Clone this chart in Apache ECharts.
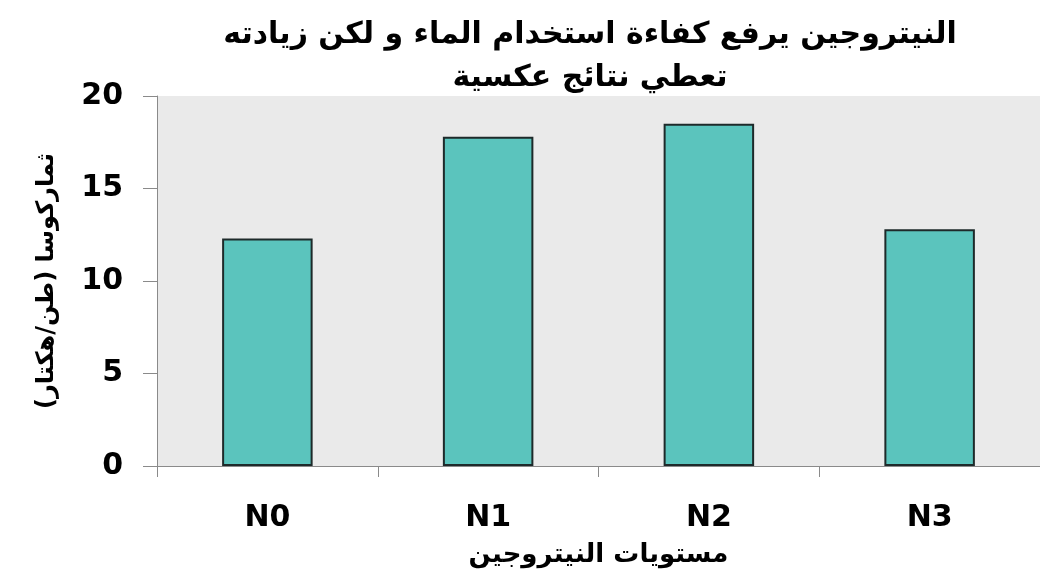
<!DOCTYPE html>
<html>
<head>
<meta charset="utf-8">
<script src="https://cdn.jsdelivr.net/npm/echarts@6/dist/echarts.min.js"></script>
<style>
html,body{margin:0;padding:0;background:#fff;}
#c{width:1040px;height:573px;}
</style>
</head>
<body>
<div id="c"></div>
<script>
const categories = ['N0', 'N1', 'N2', 'N3'];
const yieldValues = [12.3, 17.8, 18.5, 12.8];
const titleText = 'النيتروجين يرفع كفاءة استخدام الماء و لكن زيادته\nتعطي نتائج عكسية';
const yAxisName = 'ثماركوسا (طن/هكتار)';
const xAxisName = 'مستويات النيتروجين';

const FONT = '"DejaVu Sans", "Liberation Sans", sans-serif';
const chart = echarts.init(document.getElementById('c'));
chart.setOption({
  animation: false,
  backgroundColor: '#ffffff',
  graphic: [{
    type: 'text',
    x: 590,
    y: 14,
    z: 100,
    style: {
      text: titleText,
      textAlign: 'center',
      textVerticalAlign: 'top',
      fontFamily: FONT,
      fontWeight: 'bold',
      fontSize: 30,
      lineHeight: 43,
      fill: '#000'
    }
  }],
  grid: {
    left: 157,
    right: 0,
    top: 96,
    bottom: 107,
    show: true,
    backgroundColor: '#EAEAEA',
    borderWidth: 0
  },
  xAxis: {
    type: 'category',
    data: categories,
    name: xAxisName,
    nameLocation: 'middle',
    nameGap: 76,
    nameTextStyle: { fontFamily: FONT, fontWeight: 'bold', fontSize: 26, color: '#000' },
    axisLine: { show: true, lineStyle: { color: '#8a8a8a', width: 1 } },
    axisTick: { show: true, alignWithLabel: false, length: 11, lineStyle: { color: '#8a8a8a' } },
    axisLabel: { fontFamily: FONT, fontWeight: 'bold', fontSize: 30, color: '#000', margin: 37 },
    splitLine: { show: false }
  },
  yAxis: {
    type: 'value',
    min: 0,
    max: 20,
    interval: 5,
    name: yAxisName,
    nameLocation: 'middle',
    nameGap: 98,
    nameRotate: 90,
    nameTextStyle: { fontFamily: FONT, fontWeight: 'bold', fontSize: 24, color: '#000' },
    axisLine: { show: true, lineStyle: { color: '#8a8a8a', width: 1 } },
    axisTick: { show: true, length: 14, lineStyle: { color: '#8a8a8a' } },
    axisLabel: { fontFamily: FONT, fontWeight: 'bold', fontSize: 30, color: '#000', margin: 34 },
    splitLine: { show: false }
  },
  series: [{
    type: 'bar',
    data: yieldValues,
    barCategoryGap: '59%',
    itemStyle: { color: '#5BC4BD', borderColor: '#1e2a2a', borderWidth: 2 }
  }]
});
</script>
</body>
</html>
